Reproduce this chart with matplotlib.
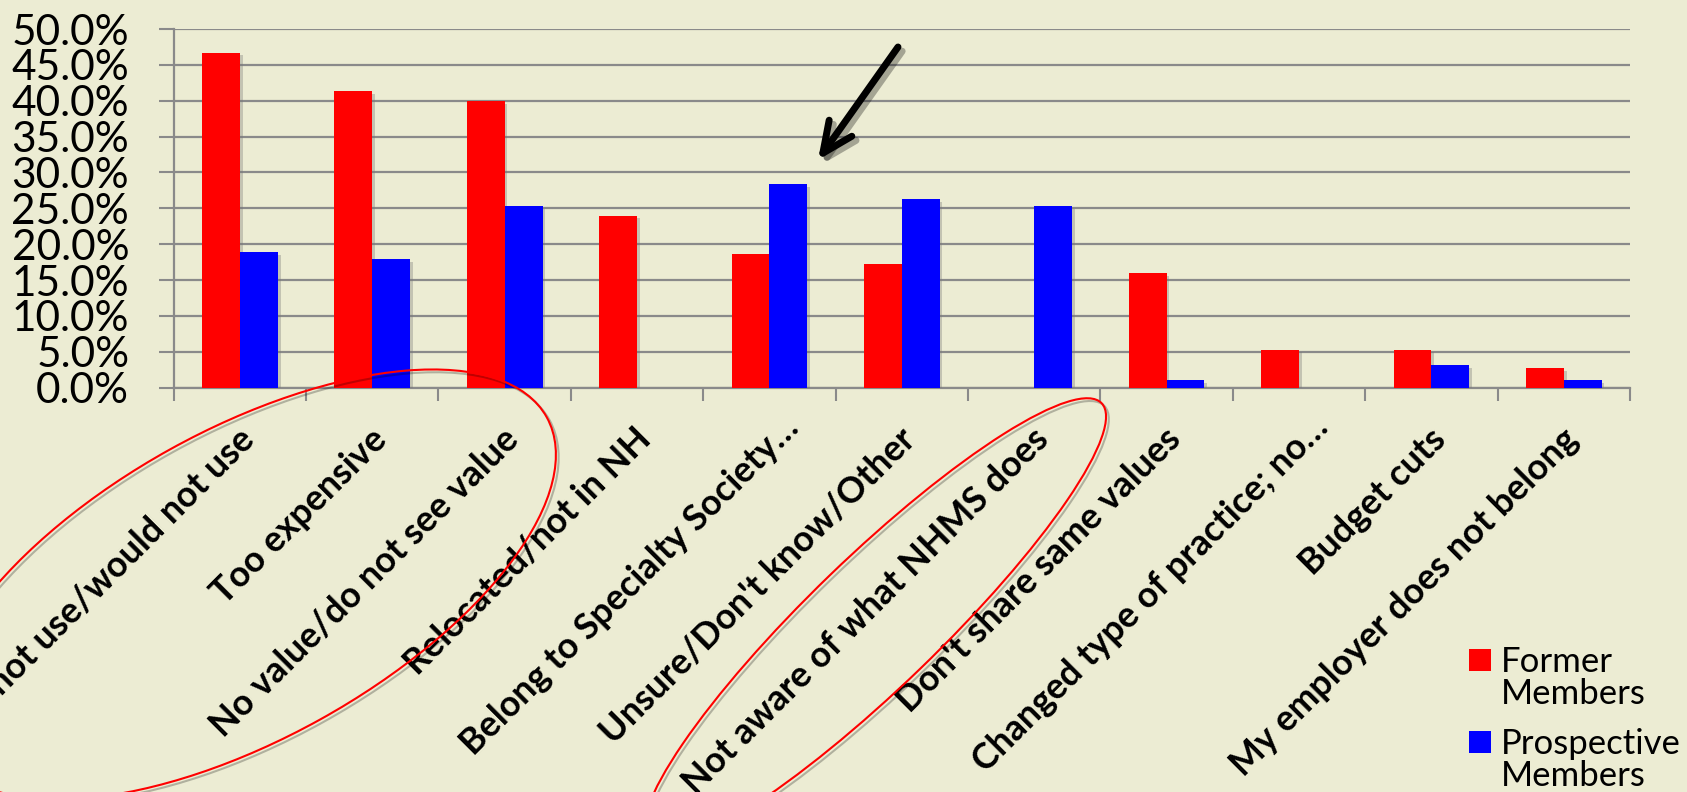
import matplotlib
matplotlib.use("Agg")
import matplotlib.pyplot as plt
import numpy as np
from matplotlib.patches import Ellipse, Patch
from matplotlib import patheffects as pe
from matplotlib.ticker import FuncFormatter
from matplotlib.transforms import ScaledTranslation

reasons = ["Do not use/would not use", "Too expensive", "No value/do not see value",
           "Relocated/not in NH", "Belong to Specialty Society\u2026", "Unsure/Don't know/Other",
           "Not aware of what NHMS does", "Don't share same values",
           "Changed type of practice; no\u2026", "Budget cuts", "My employer does not belong"]
former = [46.7, 41.3, 40.0, 24.0, 18.7, 17.3, 0.0, 16.0, 5.3, 5.3, 2.7]
prospective = [18.9, 17.9, 25.3, 0.0, 28.4, 26.3, 25.3, 1.1, 0.0, 3.2, 1.1]

bg = '#ECECD3'
grid_c = '#8A8A8A'
plt.rcParams['font.family'] = ['Lato', 'DejaVu Sans']

fig = plt.figure(figsize=(16.87, 7.92), dpi=100, facecolor=bg)
ax = fig.add_axes([0.10296, 0.51048, 0.86325, 0.45290], facecolor=bg)

x = np.arange(len(reasons))
w = 0.286
shadow = [pe.SimplePatchShadow(offset=(2, -2), shadow_rgbFace='#777777', alpha=0.35), pe.Normal()]
b1 = ax.bar(x - w / 2, former, w, color='#FF0000', zorder=3)
b2 = ax.bar(x + w / 2, prospective, w, color='#0000FF', zorder=3)
for bar in list(b1) + list(b2):
    if bar.get_height() > 0:
        bar.set_path_effects(shadow)

ax.set_xlim(-0.5, len(reasons) - 0.5)
ax.set_ylim(0, 50)
ax.set_yticks(np.arange(0, 55, 5))
ax.yaxis.set_major_formatter(FuncFormatter(lambda v, p: f"{v:.1f}%"))
ax.yaxis.grid(True, color=grid_c, lw=1.6, zorder=0)
ax.set_axisbelow(True)

# category boundaries carry the tick marks, centres carry the labels
ax.set_xticks(np.arange(-0.5, len(reasons), 1.0))
ax.set_xticklabels([])
ax.set_xticks(x, minor=True)
ax.set_xticklabels(reasons, minor=True, rotation=45, ha='right', va='top',
                   rotation_mode='anchor', fontsize=25.8, fontweight='bold')
ax.tick_params(axis='x', which='major', direction='out', length=9, width=1.5, color=grid_c)
ax.tick_params(axis='x', which='minor', length=0, pad=25)
ax.tick_params(axis='y', direction='out', length=11, width=1.5, color=grid_c,
               labelsize=30.5, pad=21)
# tick_params resets label transforms, so nudge the labels afterwards;
# truncated labels sit a little further out along the diagonal
for lab in ax.get_xticklabels(minor=True):
    dx, dy = (0.12, 0.12) if lab.get_text().endswith('\u2026') else (-0.03, 0)
    lab.set_transform(lab.get_transform() + ScaledTranslation(dx, dy, fig.dpi_scale_trans))

for s in ['top', 'right']:
    ax.spines[s].set_visible(False)
for s in ['left', 'bottom']:
    ax.spines[s].set_color(grid_c)
    ax.spines[s].set_linewidth(1.6)

# one legend block per series, label wrapped under its own text
blank = Patch(facecolor='none', edgecolor='none')
leg_kw = dict(loc='upper left', bbox_transform=fig.transFigure, frameon=False, fontsize=25,
              handlelength=0.62, handleheight=0.62, handletextpad=0.3,
              labelspacing=0.0, borderpad=0, borderaxespad=0)
leg1 = ax.legend([Patch(facecolor='#FF0000'), blank], ['Former', 'Members'],
                 bbox_to_anchor=(1469 / 1687, 1 - 646 / 792), **leg_kw)
ax.add_artist(leg1)
ax.legend([Patch(facecolor='#0000FF'), blank], ['Prospective', 'Members'],
          bbox_to_anchor=(1469 / 1687, 1 - 728 / 792), **leg_kw)

# hand-drawn highlights
line_fx = [pe.SimpleLineShadow(offset=(2, -2), alpha=0.25), pe.Normal()]
for cx, cy, ew, eh, ang in [(2.45, 2.075, 6.9, 3.09, 29), (8.75, 1.70, 6.3, 1.30, 44)]:
    e = Ellipse((cx, cy), ew, eh, angle=ang, transform=fig.dpi_scale_trans,
                fill=False, edgecolor='#FF0000', lw=1.5, zorder=10)
    e.set_path_effects(line_fx)
    fig.add_artist(e)

ax.annotate('', xy=(818, 632), xytext=(898, 745), xycoords='figure pixels',
            textcoords='figure pixels', annotation_clip=False,
            arrowprops=dict(arrowstyle='->,head_length=1.1,head_width=0.5',
                            mutation_scale=20, lw=5, color='black',
                            shrinkA=0, shrinkB=0,
                            path_effects=[pe.SimpleLineShadow(offset=(3, -3), alpha=0.3), pe.Normal()]))

fig.savefig('out.png', dpi=100, facecolor=bg)
